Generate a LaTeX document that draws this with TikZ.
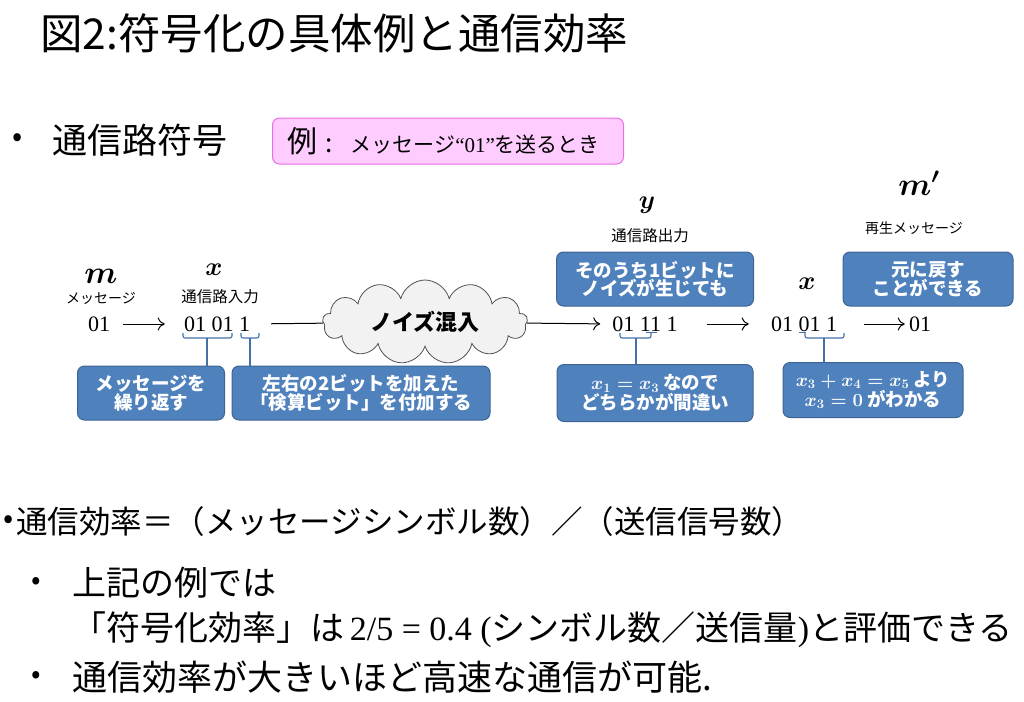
\RequirePackage{fix-cm}
\documentclass[tikz,border=0pt]{standalone}
\usepackage{amsmath}
\usepackage{fontspec}
\setmainfont{Noto Sans CJK JP}
\newfontfamily\serifnum{Liberation Serif}
\usetikzlibrary{shapes.symbols,arrows.meta}

\definecolor{boxblue}{RGB}{79,129,189}
\definecolor{boxedge}{RGB}{62,100,150}
\definecolor{bracecol}{RGB}{70,112,170}
\definecolor{pinkfill}{RGB}{255,204,255}
\definecolor{pinkedge}{RGB}{232,110,232}
\definecolor{cloudfill}{RGB}{242,242,242}
\definecolor{cloudedge}{RGB}{80,80,80}

\newcommand{\fsz}[1]{\fontsize{#1}{#1}\selectfont}

\tikzset{
	bluebox/.style={draw=boxedge, fill=boxblue, line width=1pt, rounded corners=7pt,
		text=white, align=center, inner sep=0pt, font=\fsz{18.5}\bfseries\boldmath},
	examplebox/.style={draw=pinkedge, fill=pinkfill, line width=1pt, rounded corners=7pt,
		minimum width=351pt, minimum height=46pt, text width=321pt, align=left, inner xsep=15pt},
	bits/.style={inner sep=0pt, font=\serifnum\fsz{22}},
	lbl/.style={inner sep=0pt, font=\fsz{14}},
	flow/.style={-{To[length=7pt,width=13pt]}, line width=1pt},
	brace/.style={draw=bracecol, line width=1.1pt, rounded corners=2pt},
}

\begin{document}
\begin{tikzpicture}[x=1pt,y=-1pt]
	\useasboundingbox (0,0) rectangle (1024,701);
	% title and heading
	\node [anchor=west, inner sep=0pt, font=\fsz{42.5}] (title) at (40,33) {図2:符号化の具体例と通信効率};
	\node [inner sep=0pt, font=\fsz{30}] (dot1) at (18,140) {•};
	\node [anchor=west, inner sep=0pt, font=\fsz{35}] (head) at (52,140) {通信路符号};
	\node [examplebox] (ex) at (448,141) {{\fsz{30}例}\hspace{8pt}{\fsz{26}:}\hspace{18pt}{\fsz{21}メッセージ{\serifnum “01”}を送るとき}};

	% symbols and labels
	\node [inner sep=0pt, font=\fsz{32}] (msym) at (101,276) {$\boldsymbol{m}$};
	\node [lbl] (mlbl) at (101,298) {メッセージ};
	\node [inner sep=0pt, font=\fsz{26}] (xsym) at (214,270) {$\boldsymbol{x}$};
	\node [lbl, font=\fsz{15.5}] (xlbl) at (220,297) {通信路入力};
	\node [inner sep=0pt, font=\fsz{26}] (ysym) at (647,205) {$\boldsymbol{y}$};
	\node [lbl, font=\fsz{15.5}] (ylbl) at (650,236) {通信路出力};
	\node [inner sep=0pt, font=\fsz{26}] (xsym2) at (807,284) {$\boldsymbol{x}$};
	\node [inner sep=0pt, font=\fsz{32}] (msym2) at (919,183) {$\boldsymbol{m'}$};
	\node [lbl] (mlbl2) at (914,228) {再生メッセージ};

	% bit strings
	\node [bits] (m01) at (99,324) {01};
	\node [bits] (xin) at (217,324) {01 01 1};
	\node [cloud, cloud puffs=13, aspect=2.7, draw=cloudedge, fill=cloudfill, line width=0.8pt,
		minimum width=205pt, minimum height=76pt, inner sep=0pt, font=\fsz{22}\bfseries] (mix) at (425,322) {ノイズ混入};
	\node [bits] (yout) at (645,324) {01 11 1};
	\node [bits] (xdec) at (804,324) {01 01 1};
	\node [bits] (mout) at (920,324) {01};

	\draw [flow, shorten <=13pt, shorten >=19pt] (m01.east) -- (xin.west);
	\draw [line width=1pt, shorten <=21pt] (xin.east) -- (mix);
	\draw [flow, shorten >=12pt] (mix) -- (yout.west);
	\draw [flow, shorten <=29pt, shorten >=22pt] (yout.east) -- (xdec.west);
	\draw [flow, shorten <=27pt, shorten >=4pt] (xdec.east) -- (mout.west);

	% call-out boxes
	\node [bluebox, minimum width=197pt, minimum height=54pt] (flip) at (655,279) {そのうち1ビットに\\ノイズが生じても};
	\node [bluebox, minimum width=170pt, minimum height=54pt] (recover) at (928,279) {元に戻す\\ことができる};
	\node [bluebox, minimum width=147pt, minimum height=54pt] (repeat) at (151,393) {メッセージを\\繰り返す};
	\node [bluebox, minimum width=258pt, minimum height=54pt] (check) at (361,393) {左右の2ビットを加えた\\「検算ビット」を付加する};
	\node [bluebox, minimum width=196pt, minimum height=57pt] (wrong) at (655,393) {$x_1=x_3$ なので\\どちらかが間違い};
	\node [bluebox, minimum width=180pt, minimum height=55pt] (solve) at (873,390) {$x_3+x_4=x_5$ より\\$x_3=0$ がわかる};

	% brackets under the bits
	\draw [brace] (183,333) -- (183,338) -- (232,338) -- (232,333);
	\draw [brace] (241,333) -- (241,338) -- (259,338) -- (259,333);
	\draw [brace] (620,333) -- (620,338) -- (651,338) -- (651,333);
	\draw [brace] (805,333) -- (805,338) -- (844,338) -- (844,333);
	\coordinate (b1) at (207,338);
	\coordinate (b2) at (250,338);
	\coordinate (b3) at (636,338);
	\coordinate (b4) at (824,338);
	\draw [brace] (b1) -- (b1 |- repeat.north);
	\draw [brace] (b2) -- (b2 |- check.north);
	\draw [brace] (b3) -- (b3 |- wrong.north);
	\draw [brace] (b4) -- (b4 |- solve.north);
	\draw [bracecol, line width=1pt] (646,332) -- (657,332);
	\draw [bracecol, line width=1pt] (799,332) -- (806,332);

	% efficiency text
	\node [inner sep=0pt, font=\fsz{30}] (dot0) at (9,522) {•};
	\node [anchor=west, inner sep=0pt, font=\fsz{31.5}] (eff) at (16,522) {通信効率＝（メッセージシンボル数）／（送信信号数）};
	\node [inner sep=0pt, font=\fsz{28}] (dot2) at (36,583) {•};
	\node [anchor=west, inner sep=0pt, font=\fsz{34}] (ex1) at (72,583) {上記の例では};
	\node [anchor=west, inner sep=0pt, font=\fsz{34}] (ex2) at (72,630) {「符号化効率」は{\serifnum\,2/5 = 0.4 (}シンボル数／送信量{\serifnum )}と評価できる};
	\node [inner sep=0pt, font=\fsz{28}] (dot3) at (36,677) {•};
	\node [anchor=west, inner sep=0pt, font=\fsz{35}] (ex3) at (72,677) {通信効率が大きいほど高速な通信が可能.};
\end{tikzpicture}
\end{document}
